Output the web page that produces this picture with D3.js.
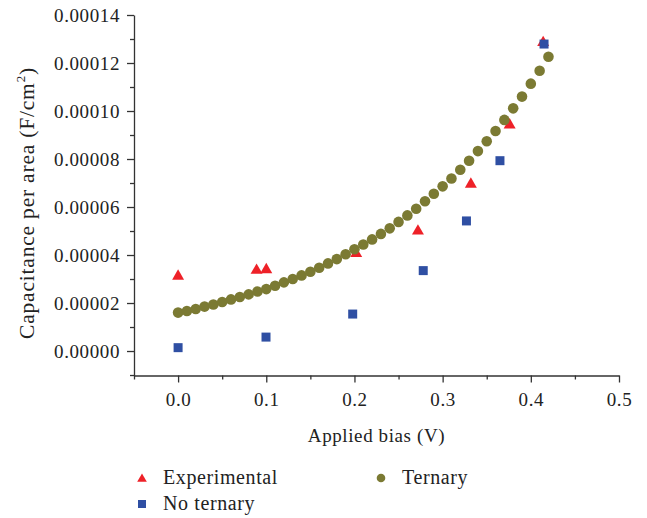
<!DOCTYPE html>
<html>
<head>
<meta charset="utf-8">
<script src="https://cdn.jsdelivr.net/npm/d3@7"></script>
<style>
  body { margin: 0; background: #fff; }
  svg { display: block; }
  .axis path, .axis line { stroke: #333; stroke-width: 1.3; }
  .axis text, .lbl { font-family: "Liberation Serif", "DejaVu Serif", serif; font-size: 19px; fill: #222; letter-spacing: 0.6px; }
  .ylbl { font-size: 21.5px; letter-spacing: 0.8px; }
  .leg { font-size: 20px; }
</style>
</head>
<body>
<svg id="chart" width="647" height="518"></svg>
<script>
// bias (V) for each series
const ternaryX = [0.00, 0.01, 0.02, 0.03, 0.04, 0.05, 0.06, 0.07, 0.08, 0.09,
  0.10, 0.11, 0.12, 0.13, 0.14, 0.15, 0.16, 0.17, 0.18, 0.19,
  0.20, 0.21, 0.22, 0.23, 0.24, 0.25, 0.26, 0.27, 0.28, 0.29,
  0.30, 0.31, 0.32, 0.33, 0.34, 0.35, 0.36, 0.37, 0.38, 0.39,
  0.40, 0.41, 0.42]
const ternaryY = [1.60e-5, 1.67e-5, 1.75e-5, 1.85e-5, 1.94e-5, 2.04e-5, 2.15e-5, 2.25e-5, 2.36e-5, 2.48e-5,
  2.58e-5, 2.72e-5, 2.86e-5, 3.00e-5, 3.15e-5, 3.30e-5, 3.47e-5, 3.65e-5, 3.83e-5, 4.03e-5,
  4.24e-5, 4.44e-5, 4.65e-5, 4.88e-5, 5.11e-5, 5.38e-5, 5.65e-5, 5.93e-5, 6.24e-5, 6.55e-5,
  6.86e-5, 7.19e-5, 7.55e-5, 7.93e-5, 8.33e-5, 8.74e-5, 9.17e-5, 9.63e-5, 1.011e-4, 1.060e-4,
  1.114e-4, 1.168e-4, 1.226e-4]

const expX = [0.0, 0.089, 0.10, 0.202, 0.272, 0.332, 0.376, 0.414]
const expY = [3.16e-5, 3.40e-5, 3.43e-5, 4.10e-5, 5.04e-5, 6.99e-5, 9.46e-5, 1.289e-4]

const noTernX = [0.0, 0.0997, 0.198, 0.278, 0.327, 0.365, 0.415]
const noTernY = [1.4e-6, 5.8e-6, 1.54e-5, 3.35e-5, 5.42e-5, 7.93e-5, 1.279e-4]

const xTicks = [0.0, 0.1, 0.2, 0.3, 0.4, 0.5]
const yTicks = [0, 2e-5, 4e-5, 6e-5, 8e-5, 1e-4, 1.2e-4, 1.4e-4]

const colors = { exp: '#ee2128', noTern: '#2f4fa3', tern: '#7b7a33' }

const svg = d3.select('#chart')

const x = d3.scaleLinear().domain([-0.05, 0.5]).range([134, 619])
const y = d3.scaleLinear().domain([-1.02e-5, 1.4e-4]).range([375.5, 15])

// minor ticks
svg.append('g')
  .attr('class', 'axis')
  .attr('transform', 'translate(0,375.5)')
  .call(d3.axisBottom(x).tickValues(d3.range(-0.05, 0.5, 0.1)).tickSize(4).tickFormat(''))
  .select('.domain').remove()

svg.append('g')
  .attr('class', 'axis')
  .attr('transform', 'translate(134,0)')
  .call(d3.axisLeft(y).tickValues(d3.range(-1e-5, 1.4e-4, 2e-5)).tickSize(4).tickFormat(''))
  .select('.domain').remove()

// major axes
svg.append('g')
  .attr('class', 'axis')
  .attr('transform', 'translate(0,375.5)')
  .call(d3.axisBottom(x).tickValues(xTicks).tickSize(7).tickSizeOuter(0).tickPadding(10).tickFormat(d3.format('.1f')))

svg.append('g')
  .attr('class', 'axis')
  .attr('transform', 'translate(134,0)')
  .call(d3.axisLeft(y).tickValues(yTicks).tickSize(7).tickSizeOuter(0).tickPadding(7).tickFormat(d3.format('.5f')))

// axis titles
svg.append('text')
  .attr('class', 'lbl')
  .attr('x', 376.5)
  .attr('y', 442)
  .attr('text-anchor', 'middle')
  .text('Applied bias (V)')

const yl = svg.append('text')
  .attr('class', 'lbl ylbl')
  .attr('transform', 'translate(34,203) rotate(-90)')
  .attr('text-anchor', 'middle')
yl.append('tspan').text('Capacitance per area (F/cm')
yl.append('tspan').style('font-size', '13px').attr('dy', -9).text('2')
yl.append('tspan').attr('dy', 9).text(')')

const tri = d3.symbol().type(d3.symbolTriangle)
const sq = d3.symbol().type(d3.symbolSquare)

// experimental triangles
svg.append('g')
  .selectAll('path')
  .data(expX.map((v, i) => [v, expY[i]]))
  .join('path')
  .attr('transform', d => `translate(${x(d[0])},${y(d[1]) + 1})`)
  .attr('d', tri.size(62)())
  .attr('fill', colors.exp)

// ternary circles
svg.append('g')
  .selectAll('circle')
  .data(ternaryX.map((v, i) => [v, ternaryY[i]]))
  .join('circle')
  .attr('cx', d => x(d[0]))
  .attr('cy', d => y(d[1]))
  .attr('r', 5.3)
  .attr('fill', colors.tern)

// no ternary squares
svg.append('g')
  .selectAll('path')
  .data(noTernX.map((v, i) => [v, noTernY[i]]))
  .join('path')
  .attr('transform', d => `translate(${x(d[0])},${y(d[1])})`)
  .attr('d', sq.size(81)())
  .attr('fill', colors.noTern)

// legend
const legend = [
  { name: 'Experimental', sym: 'tri', col: colors.exp, lx: 142, ly: 478 },
  { name: 'No ternary', sym: 'sq', col: colors.noTern, lx: 142, ly: 504 },
  { name: 'Ternary', sym: 'circ', col: colors.tern, lx: 381, ly: 478 }
]
const lg = svg.append('g').selectAll('g').data(legend).join('g')
  .attr('transform', d => `translate(${d.lx},${d.ly})`)
lg.each(function (d) {
  const g = d3.select(this)
  if (d.sym === 'circ') {
    g.append('circle').attr('r', 4.3).attr('fill', d.col)
  } else if (d.sym === 'tri') {
    g.append('path').attr('d', tri.size(40)()).attr('transform', 'translate(0,1)').attr('fill', d.col)
  } else {
    g.append('path').attr('d', sq.size(64)()).attr('fill', d.col)
  }
  g.append('text')
    .attr('class', 'lbl leg')
    .attr('x', 21)
    .attr('y', 6)
    .text(d.name)
})
</script>
</body>
</html>
